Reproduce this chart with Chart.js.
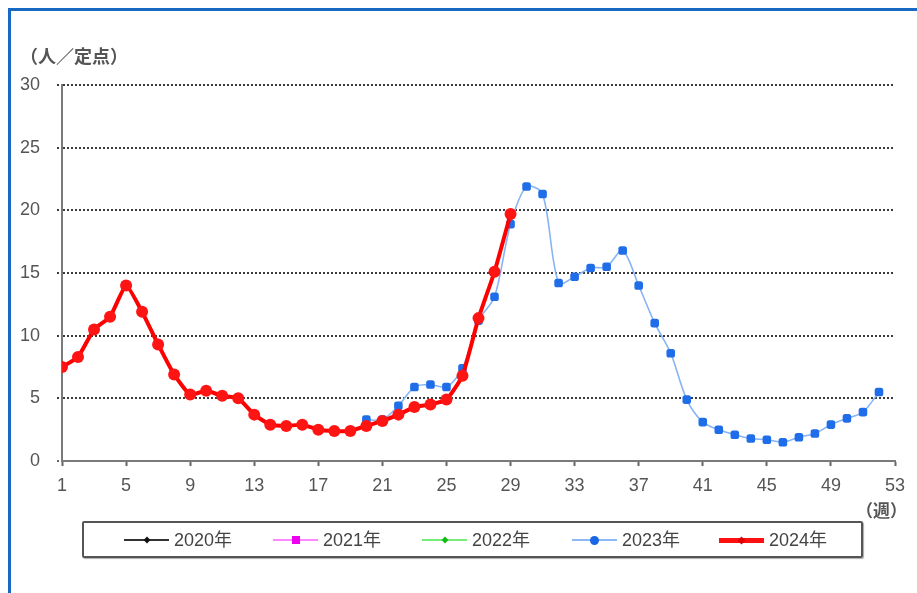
<!DOCTYPE html>
<html>
<head>
<meta charset="utf-8">
<script src="https://cdn.jsdelivr.net/npm/chart.js@4"></script>
<style>
  html, body { margin:0; padding:0; background:#ffffff; }
  #wrap { position:relative; width:917px; height:593px; overflow:hidden; font-family:"Liberation Sans","Noto Sans CJK JP",sans-serif; }
  canvas { position:absolute; left:0; top:0; }
  .frameTop { position:absolute; left:8px; top:8px; width:909px; height:3px; background:#1769c4; }
  .frameLeft { position:absolute; left:8px; top:8px; width:3px; height:585px; background:#1769c4; }
  .txt { position:absolute; color:#444; font-size:18px; line-height:20px; white-space:nowrap; }
  #legend { position:absolute; left:82px; top:521px; width:777px; height:33px; border:2px solid #555; border-radius:2px; box-shadow:1px 1px 1px #aaa; }
  .li { position:absolute; top:0; height:33px; }
  .ln { position:absolute; top:16px; height:2px; width:45px; }
  .mk { position:absolute; }
  .lt { position:absolute; left:50px; top:7px; font-size:18px; line-height:20px; color:#444; white-space:nowrap; }
</style>
</head>
<body>
<div id="wrap">
  <canvas id="c" width="917" height="593"></canvas>
  <div class="frameTop"></div>
  <div class="frameLeft"></div>
  <div class="txt" style="left:20px; top:45px; font-family:'Noto Sans CJK JP',sans-serif; font-size:18px; font-weight:bold; color:#555;">（人／定点）</div>
  <div class="txt" style="left:856px; top:500px; font-family:'Noto Sans CJK JP',sans-serif; font-size:17px; font-weight:bold; color:#555;">（週）</div>
  <div id="legend"></div>
</div>
<script>
// ---- data ----
const weeks = [1,2,3,4,5,6,7,8,9,10,11,12,13,14,15,16,17,18,19,20,21,22,23,24,25,26,
               27,28,29,30,31,32,33,34,35,36,37,38,39,40,41,42,43,44,45,46,47,48,49,50,51,52];
const xTickLabels = [1,5,9,13,17,21,25,29,33,37,41,45,49,53];
const yTickLabels = [0,5,10,15,20,25,30];
const seriesNames = ["2020年","2021年","2022年","2023年","2024年"];
const y2020 = [];
const y2021 = [];
const y2022 = [];
const y2023 = [null,null,null,null,null,null,null,null,null,null,null,null,null,null,null,null,null,null,null,
               3.3,3.3,4.4,5.9,6.1,5.9,7.4,11.2,13.1,18.9,21.9,21.3,14.2,14.7,15.4,15.5,16.8,14.0,11.0,8.6,4.9,
               3.1,2.5,2.1,1.8,1.7,1.5,1.9,2.2,2.9,3.4,3.9,5.5];
const y2024 = [7.5,8.3,10.5,11.5,14.0,11.9,9.3,6.9,5.3,5.6,5.2,5.0,3.7,2.9,2.8,2.9,2.5,2.4,2.4,2.8,
               3.2,3.7,4.3,4.5,4.9,6.8,11.4,15.1,19.7];

function pts(vals){ return vals.map((v,i)=>({x:weeks[i], y:v})); }

const legendStyle = [
  {line:'#333333', lw:2, mk:'diamond', mc:'#111111', ms:6},
  {line:'#ff88ff', lw:2, mk:'square', mc:'#ee00ee', ms:8},
  {line:'#77ee77', lw:2, mk:'diamond', mc:'#11bb11', ms:6},
  {line:'#8db8f4', lw:2, mk:'circle', mc:'#1a66e6', ms:9},
  {line:'#ff1010', lw:5, mk:'diamond', mc:'#dd0000', ms:7}
];
const legendX = [40, 189, 338, 488, 635];

const lg = document.getElementById('legend');
seriesNames.forEach((n,i)=>{
  const s = legendStyle[i];
  const d = document.createElement('div'); d.className='li'; d.style.left = legendX[i]+'px';
  const l = document.createElement('div'); l.className='ln';
  l.style.background = s.line; l.style.height = s.lw+'px'; l.style.top = (17 - s.lw/2)+'px';
  d.appendChild(l);
  const m = document.createElement('div'); m.className='mk';
  m.style.width = s.ms+'px'; m.style.height = s.ms+'px'; m.style.background = s.mc;
  m.style.left = (22.5 - s.ms/2)+'px'; m.style.top = (17 - s.ms/2)+'px';
  if (s.mk==='circle') m.style.borderRadius='50%';
  if (s.mk==='diamond') m.style.transform='rotate(45deg) scale(0.8)';
  d.appendChild(m);
  const t = document.createElement('div'); t.className='lt'; t.textContent = n;
  d.appendChild(t);
  lg.appendChild(d);
});

const tickFont = {family:'"Liberation Sans", "Noto Sans CJK JP", sans-serif', size:18};

new Chart(document.getElementById('c'), {
  type:'line',
  data:{
    datasets:[
      {label:seriesNames[0], data:pts(y2020), borderColor:'#333', order:4},
      {label:seriesNames[1], data:pts(y2021), borderColor:'#ff88ff', order:3},
      {label:seriesNames[2], data:pts(y2022), borderColor:'#77ee77', order:2},
      {label:seriesNames[3], data:pts(y2023), borderColor:'#86b4f5', borderWidth:1.6,
       pointStyle:'rectRounded', pointRadius:5, pointBackgroundColor:'#1f6de8', pointBorderWidth:0,
       tension:0.3, spanGaps:false, order:1},
      {label:seriesNames[4], data:pts(y2024), borderColor:'#ff0000', borderWidth:4,
       pointStyle:'circle', pointRadius:6, pointBackgroundColor:'#ff1414', pointBorderWidth:0,
       tension:0.15, order:0}
    ]
  },
  options:{
    responsive:false,
    animation:false,
    devicePixelRatio:1,
    layout:{padding:{left:0, right:22, top:85, bottom:0}},
    plugins:{legend:{display:false}, tooltip:{enabled:false}},
    scales:{
      x:{
        type:'linear', min:1, max:53,
        afterBuildTicks:(s)=>{ s.ticks = xTickLabels.map(v=>({value:v})); },
        afterFit:(s)=>{ s.height = 132; },
        ticks:{font:tickFont, color:'#555', padding:9, autoSkip:false, maxRotation:0},
        grid:{drawOnChartArea:false, drawTicks:true, tickLength:5, tickColor:'#666', tickWidth:2},
        border:{display:true, color:'#7a7a7a', width:2}
      },
      y:{
        min:0, max:30,
        afterBuildTicks:(s)=>{ s.ticks = yTickLabels.map(v=>({value:v})); },
        afterFit:(s)=>{ s.width = 62; },
        ticks:{font:tickFont, color:'#555', padding:17},
        grid:{
          color:(ctx)=> (ctx.tick && ctx.tick.value===0) ? 'rgba(0,0,0,0)' : '#3a3a3a',
          lineWidth:2, tickLength:5, tickBorderDash:[2,2], tickColor:(ctx)=> (ctx.tick && ctx.tick.value===0) ? '#666' : '#3a3a3a'
        },
        border:{display:true, color:'#7a7a7a', width:2, dash:[2,2]}
      }
    }
  }
});
</script>
</body>
</html>
